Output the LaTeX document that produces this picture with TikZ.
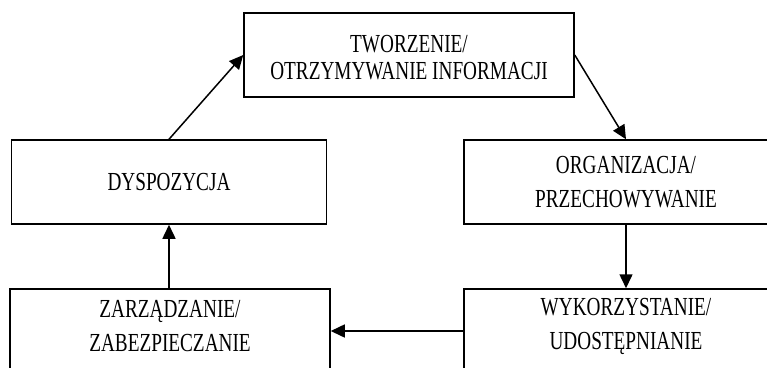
\documentclass[tikz,border=0pt]{standalone}
\usepackage{fontspec}
\setmainfont{Liberation Serif}[FakeStretch=0.74]
\usetikzlibrary{arrows.meta}

\begin{document}
\begin{tikzpicture}[x=1pt, y=-1pt,
    stagebox/.style={draw, line width=1.5pt, rectangle, align=center,
      minimum height=84pt, inner sep=0pt,
      font=\fontsize{26}{34}\selectfont},
    boxtext/.style={align=center, inner sep=0pt,
      font=\fontsize{26}{34}\selectfont},
    flow/.style={line width=1.5pt, -{Triangle[length=14pt,width=13pt]}}]
  \useasboundingbox (0,0) rectangle (767,367);
  \clip (0,0) rectangle (767,367);

  % life-cycle stages
  \node[stagebox, minimum width=330pt,
    label={[boxtext, font=\fontsize{26}{27}\selectfont, yshift=-2.5pt]center:TWORZENIE/\\OTRZYMYWANIE INFORMACJI}]
    (tworz) at (409,55) {};
  \node[stagebox, minimum width=324pt] (org) at (626,182)
    {ORGANIZACJA/\\PRZECHOWYWANIE};
  \node[stagebox, minimum width=324pt,
    label={[boxtext, yshift=5pt]center:WYKORZYSTANIE/\\UDOSTĘPNIANIE}]
    (wyk) at (626,331) {};
  \node[stagebox, minimum width=320pt,
    label={[boxtext, yshift=5pt]center:ZARZĄDZANIE/\\ZABEZPIECZANIE}]
    (zarz) at (170,331) {};
  \node[stagebox, minimum width=315pt] (dysp) at (169,182) {DYSPOZYCJA};

  % cycle connectors
  \draw[flow] (dysp.north) -- (tworz.west);
  \draw[flow] (tworz.east) -- (org.north);
  \draw[flow] (org.south) -- (wyk.north);
  \draw[flow] (wyk.west) -- (zarz.east);
  \draw[flow] (zarz.north -| dysp.south) -- (dysp.south);
\end{tikzpicture}
\end{document}
